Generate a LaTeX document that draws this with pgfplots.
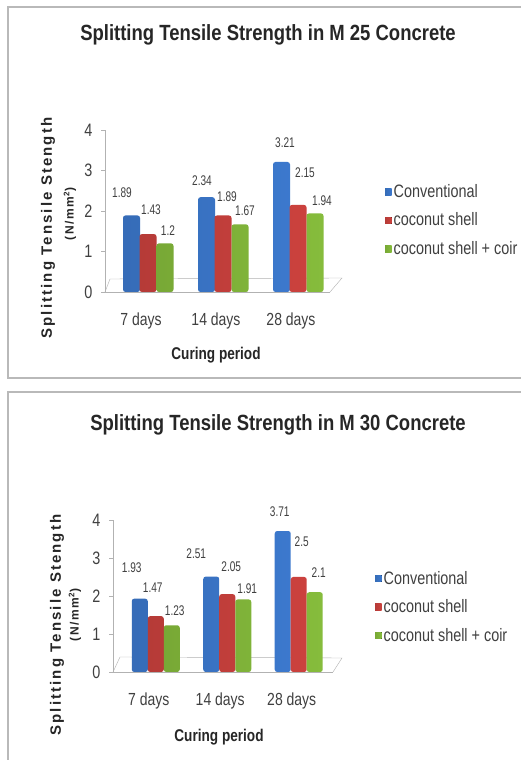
\documentclass[border=0pt]{standalone}
\usepackage{fontspec}
\setmainfont{Liberation Sans}[FakeStretch=0.8]
\newfontfamily\titlefont{Liberation Sans}[FakeStretch=0.84]
\newfontfamily\ylfont{Liberation Sans}[LetterSpace=14]
\newfontfamily\numfont{Liberation Sans}[FakeStretch=0.72]
\usepackage{pgfplots}
\pgfplotsset{compat=1.18}

\definecolor{cblue}{HTML}{3F7FD8}
\definecolor{cred}{HTML}{D64541}
\definecolor{cgreen}{HTML}{8DC63F}
\definecolor{txt}{HTML}{404040}

\pgfplotsset{
  concrete/.style={
    scale only axis, ybar, clip=false,
    ymin=0, ymax=4, ytick={0,1,2,3,4},
    axis x line=bottom, axis y line=left,
    axis line style={draw=gray!60,-},
    xtick={0,1,2}, xticklabels={7 days,14 days,28 days},
    major x tick style={draw=none},
    extra x ticks={0.5,1.5,2.5}, extra x tick labels={},
    extra x tick style={x tick style={draw=gray!60}},
    tick align=outside, major tick length=4pt,
    y tick style={draw=gray!60},
    /pgf/number format/assume math mode=true,
    yticklabel style={font=\fontsize{18}{20}\selectfont, text=txt, xshift=-5pt},
    xticklabel style={font=\fontsize{17.5}{20}\selectfont, text=txt, yshift=-13pt},
    bar width=17pt,
    nodes near coords,
    every node near coord/.append style={font=\numfont\fontsize{14}{16}\selectfont, text=txt, anchor=center, xshift=\dx pt, yshift=\dy pt},
    visualization depends on={\thisrow{dx}\as\dx},
    visualization depends on={\thisrow{dy}\as\dy},
    legend style={draw=none, fill=none, font=\fontsize{18}{20}\selectfont, text=txt, anchor=west, row sep=10pt, cells={anchor=west}},
    legend image code/.code={\fill[#1, rounded corners=0pt] (1pt,-3.5pt) rectangle (7.5pt,3pt);},
  },
  sblue/.style={draw=none, rounded corners=2.5pt, left color=cblue!85!black, middle color=cblue!70!white, right color=cblue!95!black},
  sred/.style={draw=none, rounded corners=2.5pt, left color=cred!85!black, middle color=cred!75!white, right color=cred!95!black},
  sgreen/.style={draw=none, rounded corners=2.5pt, left color=cgreen!85!black, middle color=cgreen!70!white, right color=cgreen!95!black},
}

\begin{document}
\begin{tikzpicture}
\path[use as bounding box, fill=white] (0,0) rectangle (521pt,760pt);
\draw[gray!55, line width=1.2pt] (521pt,753pt) -- (8pt,753pt) -- (8pt,382pt) -- (521pt,382pt);
\draw[gray!55, line width=1.2pt] (521pt,368pt) -- (8pt,368pt) -- (8pt,0pt);

% ---------- M 25 ----------
\node[font=\titlefont\bfseries\fontsize{22}{26}\selectfont, text=black!85] at (268pt,725pt) {Splitting Tensile Strength in M 25 Concrete};
\begin{axis}[concrete, at={(105pt,468pt)}, anchor=south west,
  width=225pt, height=162pt, xmin=-0.48, xmax=2.52,
  legend style={at={(rel axis cs:1.231,0.444)}}]
\draw[gray!60] (axis cs:-0.48,0) -- ++(5pt,13pt) -- ([xshift=12pt,yshift=14pt]axis cs:2.52,0) -- (axis cs:2.52,0);
\addplot[sblue, bar shift=-9.5pt] table {
x y dx dy
0 1.89 -9.5 22.5
1 2.34 -4.5 17
2 3.21 3.5 19
};
\addplot[sred, bar shift=7pt] table {
x y dx dy
0 1.43 3 24
1 1.89 4 18.5
2 2.15 7 32
};
\addplot[sgreen, bar shift=24pt] table {
x y dx dy
0 1.2 3 13
1 1.67 5 14
2 1.94 7 13
};
\legend{Conventional, coconut shell, coconut shell + coir}
\end{axis}
\node[rotate=90, font=\ylfont\bfseries\fontsize{15}{17}\selectfont, text=black!85] at (48pt,532pt) {Splitting Tensile Stength};
\node[rotate=90, font=\ylfont\bfseries\fontsize{12}{14}\selectfont, text=black!85] at (70pt,546pt) {(N/mm\textsuperscript{2})};
\node[font=\bfseries\fontsize{17}{20}\selectfont, text=black!85] at (216pt,405pt) {Curing period};

% ---------- M 30 ----------
\node[font=\titlefont\bfseries\fontsize{22}{26}\selectfont, text=black!85] at (278pt,335pt) {Splitting Tensile Strength in M 30 Concrete};
\begin{axis}[concrete, at={(113pt,88pt)}, anchor=south west,
  width=220pt, height=152pt, xmin=-0.5, xmax=2.577, bar width=16pt,
  legend style={at={(rel axis cs:1.177,0.428)}}]
\draw[gray!60] (axis cs:-0.5,0) -- ++(7pt,15pt) -- ([xshift=9pt,yshift=14pt]axis cs:2.577,0) -- (axis cs:2.577,0);
\addplot[sblue, bar shift=-9pt] table {
x y dx dy
0 1.93 -8 31
1 2.51 -15 23
2 3.71 -3 19
};
\addplot[sred, bar shift=7pt] table {
x y dx dy
0 1.47 -3 28
1 2.05 4 27
2 2.5 3 35
};
\addplot[sgreen, bar shift=23pt] table {
x y dx dy
0 1.23 3 15
1 1.91 4 11
2 2.1 4 20
};
\legend{Conventional, coconut shell, coconut shell + coir}
\end{axis}
\node[rotate=90, font=\ylfont\bfseries\fontsize{15}{17}\selectfont, text=black!85] at (57pt,135pt) {Splitting Tensile Stength};
\node[rotate=90, font=\ylfont\bfseries\fontsize{12}{14}\selectfont, text=black!85] at (75pt,145pt) {(N/mm\textsuperscript{2})};
\node[font=\bfseries\fontsize{17}{20}\selectfont, text=black!85] at (219pt,23pt) {Curing period};
\end{tikzpicture}
\end{document}
